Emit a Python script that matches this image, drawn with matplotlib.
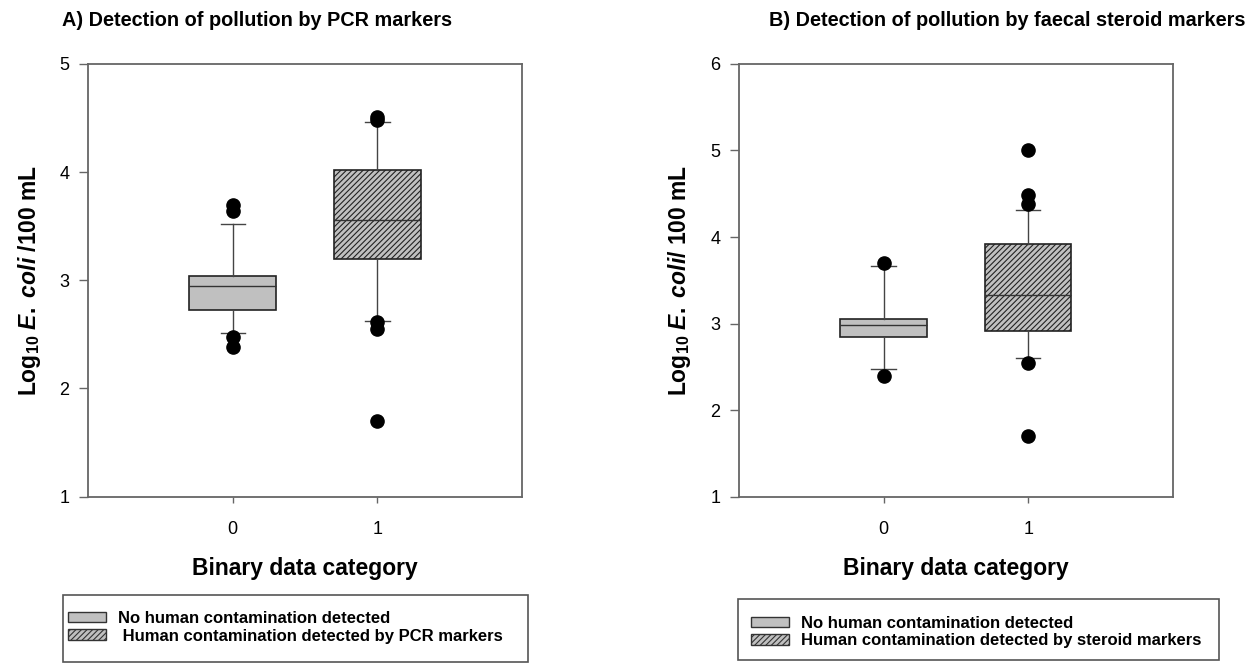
import matplotlib
matplotlib.use("Agg")
import matplotlib.pyplot as plt
from matplotlib.patches import Patch, Rectangle

plt.rcParams['font.family'] = ['Liberation Sans', 'DejaVu Sans']
plt.rcParams['mathtext.fontset'] = 'custom'
plt.rcParams['mathtext.rm'] = 'Liberation Sans:bold'
plt.rcParams['mathtext.it'] = 'Liberation Sans:italic:bold'
plt.rcParams['mathtext.bf'] = 'Liberation Sans:bold'
plt.rcParams['hatch.linewidth'] = 0.8

# box summaries (log10 E. coli / 100 mL), category 0 and 1
pcr_q1 = [2.73, 3.20]
pcr_med = [2.95, 3.56]
pcr_q3 = [3.04, 4.02]
pcr_lo = [2.51, 2.62]
pcr_hi = [3.52, 4.46]
pcr_out0 = [3.70, 3.64, 2.48, 2.38]
pcr_out1 = [4.48, 4.51, 2.61, 2.55, 1.70]

ster_q1 = [2.84, 2.91]
ster_med = [2.98, 3.33]
ster_q3 = [3.05, 3.92]
ster_lo = [2.47, 2.60]
ster_hi = [3.66, 4.31]
ster_out0 = [3.70, 2.39]
ster_out1 = [5.00, 4.49, 4.38, 2.55, 1.70]

categories = [0, 1]
titles = ["A) Detection of pollution by PCR markers",
          "B) Detection of pollution by faecal steroid markers"]
ylabels = [r"$\mathrm{Log}_{10}$ $\mathit{E.}$ $\mathit{coli}$ /100 mL",
           r"$\mathrm{Log}_{10}$ $\mathit{E.}$ $\mathit{coli/}$ 100 mL"]
legend_labels = [["No human contamination detected",
                  " Human contamination detected by PCR markers"],
                 ["No human contamination detected",
                  "Human contamination detected by steroid markers"]]

box_fill = '#c0c0c0'
spine_col = '#666666'


def make_stats(q1, med, q3, lo, hi, outs):
    stats = []
    for i in range(len(q1)):
        stats.append(dict(q1=q1[i], med=med[i], q3=q3[i],
                          whislo=lo[i], whishi=hi[i], fliers=outs[i]))
    return stats


panels = [
    (make_stats(pcr_q1, pcr_med, pcr_q3, pcr_lo, pcr_hi, [pcr_out0, pcr_out1]), (1, 5)),
    (make_stats(ster_q1, ster_med, ster_q3, ster_lo, ster_hi, [ster_out0, ster_out1]), (1, 6)),
]

fig = plt.figure(figsize=(12.53, 6.64), dpi=100)
ax_pos = [[0.0705, 0.252, 0.3459, 0.6517], [0.5898, 0.252, 0.3461, 0.6517]]
title_x = [0.205, 0.804]
frame_box = [[0.050, 0.003, 0.3713, 0.101], [0.589, 0.006, 0.384, 0.092]]
leg_anchor = [(0.0543, 0.0798), (0.5991, 0.0723)]

for k, (stats, ylim) in enumerate(panels):
    ax = fig.add_axes(ax_pos[k])
    bp = ax.bxp(stats, positions=categories, widths=0.6, capwidths=0.17,
                patch_artist=True,
                boxprops=dict(edgecolor='#222222', linewidth=1.2),
                medianprops=dict(color='#333333', linewidth=1.0),
                whiskerprops=dict(color='#444444', linewidth=1.0),
                capprops=dict(color='#444444', linewidth=1.0),
                flierprops=dict(marker='o', markerfacecolor='black',
                                markeredgecolor='black', markersize=9.5))
    for j, box in enumerate(bp['boxes']):
        box.set_facecolor(box_fill)
        if j == 1:
            box.set_hatch('//////')

    ax.set_xlim(-1, 2)
    ax.set_ylim(*ylim)
    ax.set_xticks(categories)
    ax.set_yticks(range(ylim[0], ylim[1] + 1))
    for sp in ax.spines.values():
        sp.set_color(spine_col)
        sp.set_linewidth(1.3)
    ax.tick_params(axis='y', direction='out', length=6.5, width=1,
                   color=spine_col, labelsize=13, pad=7)
    ax.tick_params(axis='x', direction='out', length=4.5, width=1,
                   color=spine_col, labelsize=13, pad=13)
    ax.set_xlabel("Binary data category", fontsize=16.5, fontweight='bold',
                  labelpad=14)
    ax.set_ylabel(ylabels[k], fontsize=16.5, fontweight='bold', labelpad=12)

    fig.text(title_x[k], 0.969, titles[k], fontsize=14.3, fontweight='bold',
             ha='center', va='center')

    # legend frame drawn separately so the entries can sit tight to the left
    fig.add_artist(Rectangle(frame_box[k][:2], frame_box[k][2], frame_box[k][3],
                             transform=fig.transFigure, facecolor='none',
                             edgecolor='#555555', linewidth=1.2))
    handles = [Patch(facecolor=box_fill, edgecolor='#333333', linewidth=1.0),
               Patch(facecolor=box_fill, edgecolor='#333333', linewidth=1.0,
                     hatch='//////')]
    fig.legend(handles, legend_labels[k], loc='upper left',
               bbox_to_anchor=leg_anchor[k], frameon=False,
               prop=dict(weight='bold', size=12.0), borderpad=0,
               labelspacing=0.15, handlelength=2.3, handleheight=0.6,
               handletextpad=0.7, borderaxespad=0)

fig.savefig("out.png", dpi=100)
